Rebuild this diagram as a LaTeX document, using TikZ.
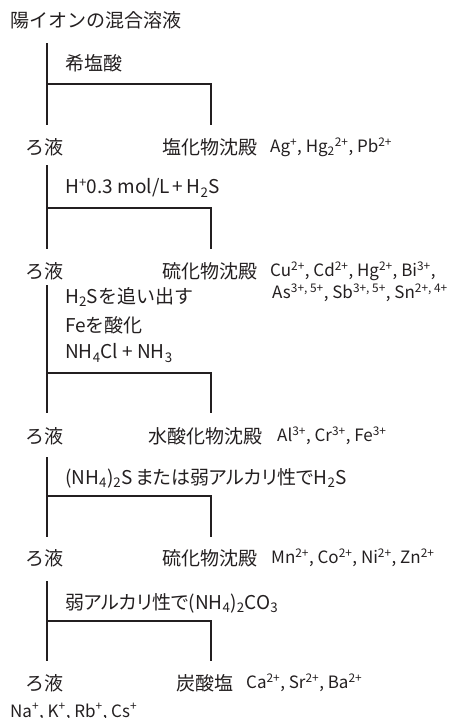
\documentclass[tikz,border=0pt]{standalone}
\usepackage{fontspec}
\setmainfont{Noto Sans CJK JP}
\newfontfamily\paltfont[RawFeature=+palt]{Noto Sans CJK JP}
\newcommand\sps[1]{\textsuperscript{#1}}
\newcommand\sbs[1]{\textsubscript{#1}}
\definecolor{ink}{HTML}{231F20}
\begin{document}
\begin{tikzpicture}[x=1pt,y=-1pt,
  txt/.style={anchor=west,inner sep=0pt,text=ink,font=\fontsize{19}{22}\selectfont},
  ptxt/.style={anchor=west,inner sep=0pt,text=ink,font=\fontsize{19}{22}\paltfont},
  ion/.style={anchor=west,inner sep=0pt,text=ink,font=\fontsize{17}{20}\selectfont},
  flow/.style={draw=ink,line width=1.3pt}]
\useasboundingbox (0,0) rectangle (450,718);
\node[txt] (title) at (10,20) {陽イオンの混合溶液};
% stage 1
\coordinate (t1) at (47,43); \coordinate (h1) at (47,84); \coordinate (r1) at (211,125); \coordinate (b1) at (47,125);
\draw[flow] (t1) -- (b1); \draw[flow] (h1) -| (r1);
\node[txt] (l1) at (65,63) {希塩酸};
\node[txt] (f1) at (25,147) {ろ液};
\node[txt] (p1) at (162,147) {塩化物沈殿};
\node[ion] (i1) at (270,147) {Ag\sps{+}, Hg\sbs{2}\sps{2+}, Pb\sps{2+}};
% stage 2
\coordinate (t2) at (47,165); \coordinate (h2) at (47,208); \coordinate (r2) at (211,249); \coordinate (b2) at (47,249);
\draw[flow] (t2) -- (b2); \draw[flow] (h2) -| (r2);
\node[txt] (l2) at (65,188) {H\sps{+}0.3 mol/L\,+\,H\sbs{2}S};
\node[txt] (f2) at (25,271) {ろ液};
\node[txt] (p2) at (162,271) {硫化物沈殿};
\node[ion] (i2a) at (270,271) {Cu\sps{2+}, Cd\sps{2+}, Hg\sps{2+}, Bi\sps{3+},};
\node[ion] (i2b) at (272,293) {As\sps{3+, 5+}, Sb\sps{3+, 5+}, Sn\sps{2+, 4+}};
% stage 3
\coordinate (t3) at (47,285); \coordinate (h3) at (47,373); \coordinate (r3) at (211,413); \coordinate (b3) at (47,413);
\draw[flow] (t3) -- (b3); \draw[flow] (h3) -| (r3);
\node[txt] (l3a) at (65,297) {H\sbs{2}Sを追い出す};
\node[txt] (l3b) at (65,325) {Feを酸化};
\node[txt] (l3c) at (65,353) {NH\sbs{4}Cl + NH\sbs{3}};
\node[txt] (f3) at (25,436) {ろ液};
\node[txt] (p3) at (148,436) {水酸化物沈殿};
\node[ion] (i3) at (277,436) {Al\sps{3+}, Cr\sps{3+}, Fe\sps{3+}};
% stage 4
\coordinate (t4) at (47,457); \coordinate (h4) at (47,496); \coordinate (r4) at (211,537); \coordinate (b4) at (47,537);
\draw[flow] (t4) -- (b4); \draw[flow] (h4) -| (r4);
\node[ptxt] (l4) at (65,478) {(NH\sbs{4})\sbs{2}S\hspace{3pt}または弱アルカリ性でH\sbs{2}S};
\node[txt] (f4) at (25,558) {ろ液};
\node[txt] (p4) at (162,558) {硫化物沈殿};
\node[ion] (i4) at (271,558) {Mn\sps{2+}, Co\sps{2+}, Ni\sps{2+}, Zn\sps{2+}};
% stage 5
\coordinate (t5) at (47,581); \coordinate (h5) at (47,621); \coordinate (r5) at (211,661); \coordinate (b5) at (47,661);
\draw[flow] (t5) -- (b5); \draw[flow] (h5) -| (r5);
\node[ptxt] (l5) at (65,603) {弱アルカリ性で(NH\sbs{4})\sbs{2}CO\sbs{3}};
\node[txt] (f5) at (25,683) {ろ液};
\node[txt] (p5) at (176,683) {炭酸塩};
\node[ion] (i5) at (246,683) {Ca\sps{2+}, Sr\sps{2+}, Ba\sps{2+}};
\node[ion] (i6) at (10,712) {Na\sps{+}, K\sps{+}, Rb\sps{+}, Cs\sps{+}};
\end{tikzpicture}
\end{document}
